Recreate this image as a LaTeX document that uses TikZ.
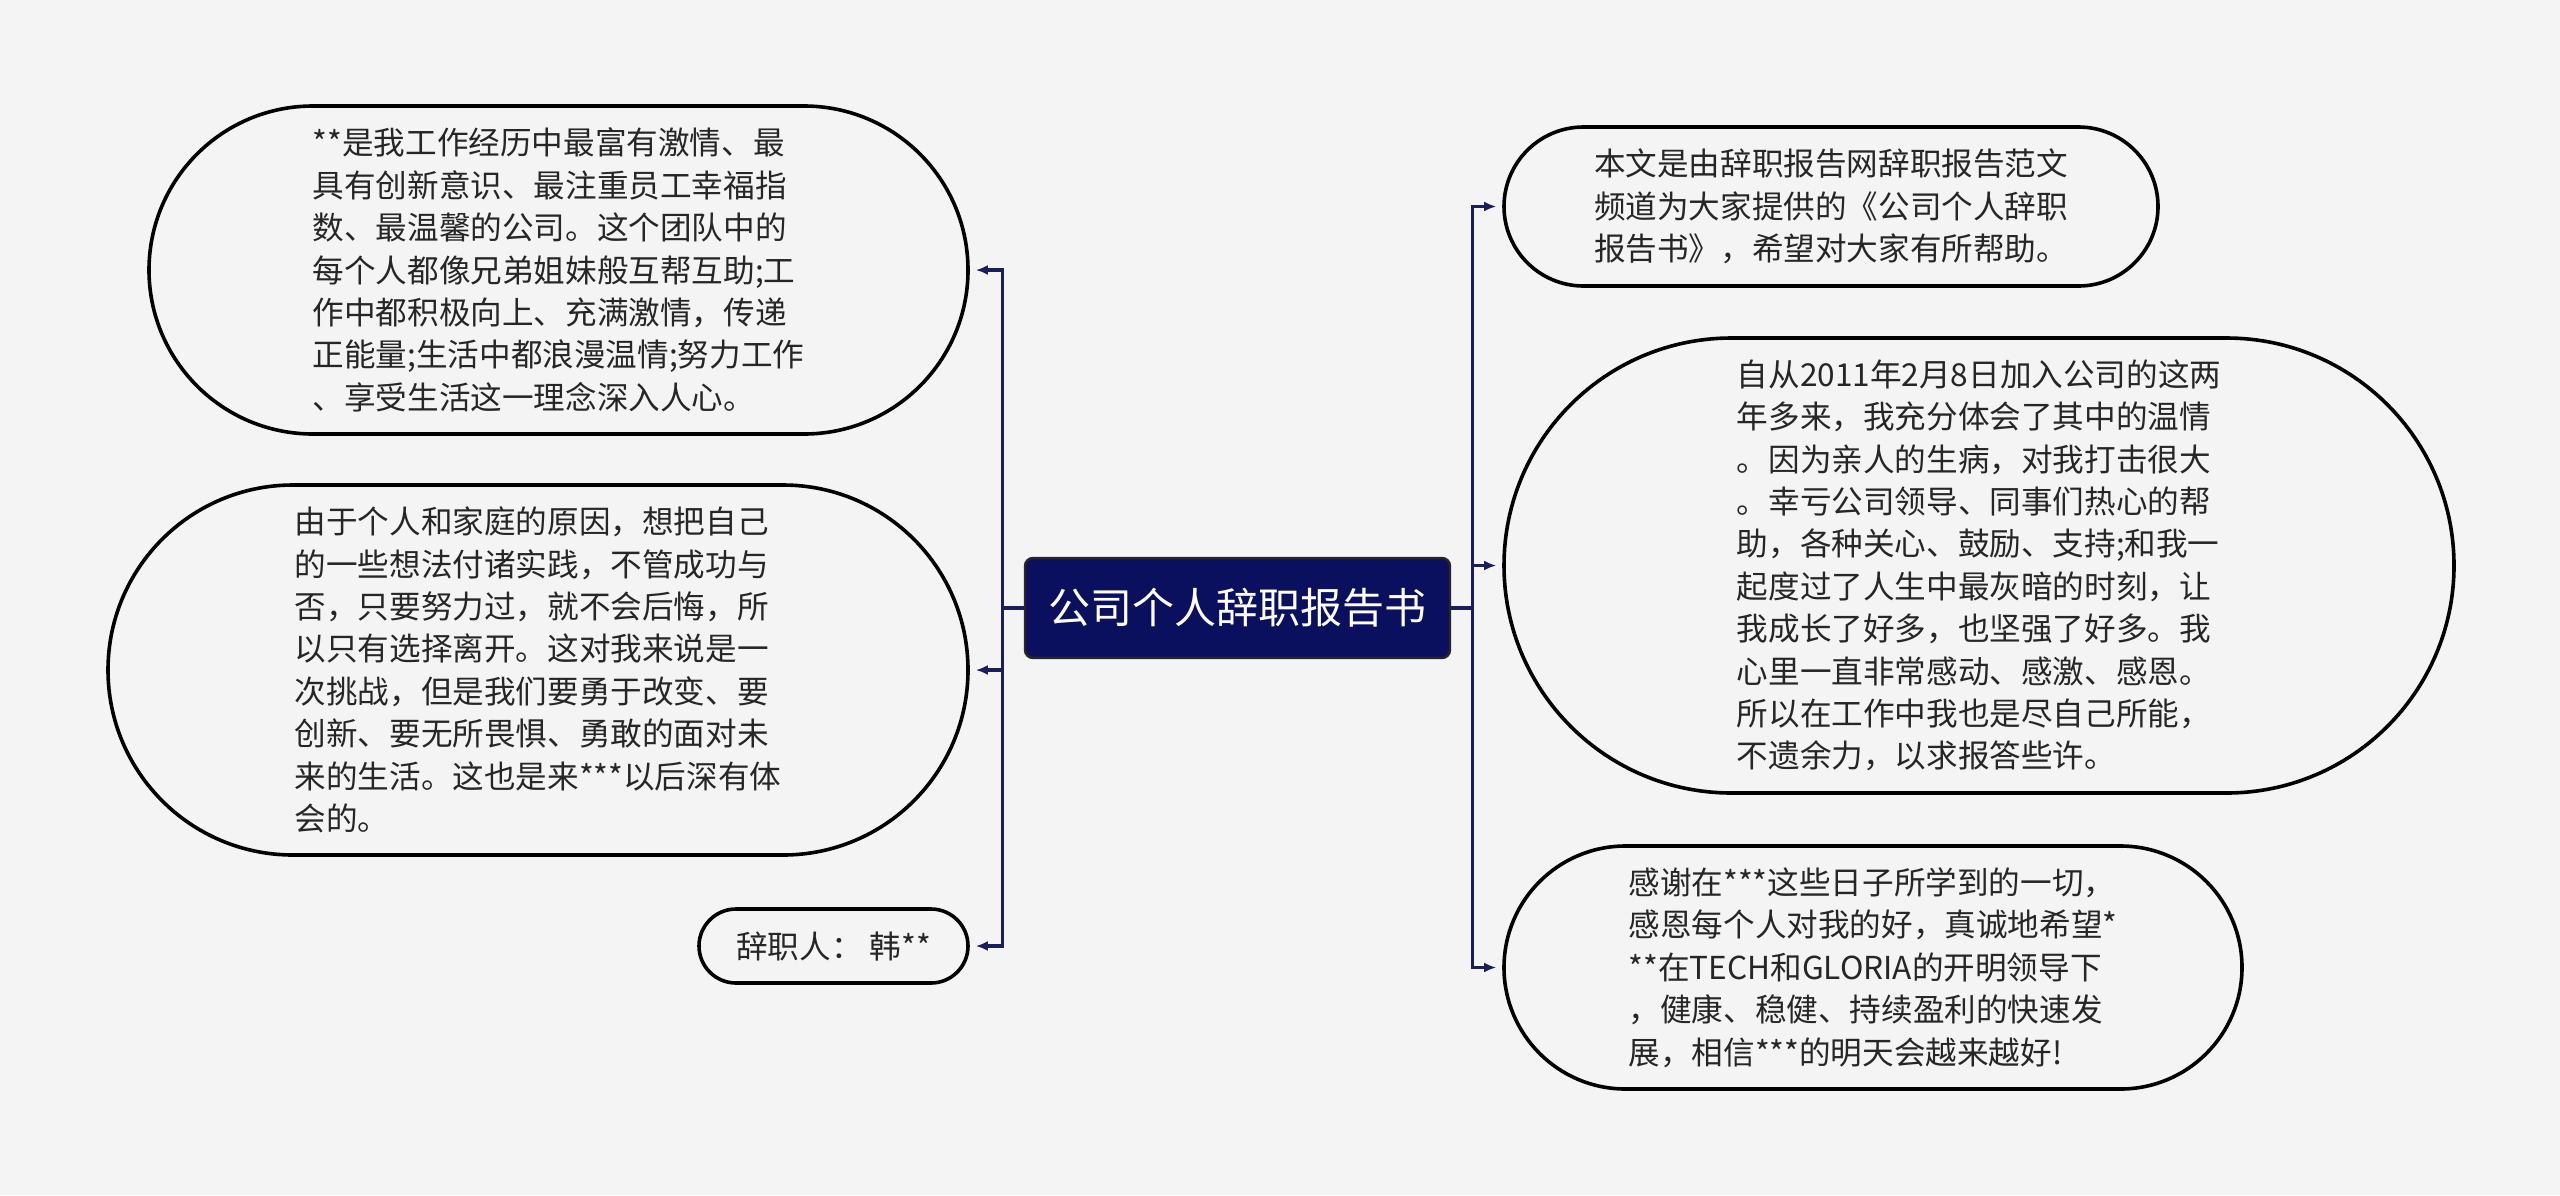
\documentclass[tikz,border=0pt]{standalone}
\usepackage{fontspec}
\newfontfamily\cjk{Noto Sans CJK SC}
\usetikzlibrary{positioning,arrows.meta,shapes.misc}
\definecolor{bgcol}{HTML}{F4F4F4}
\definecolor{navy}{HTML}{0B105E}
\definecolor{linkcol}{HTML}{1A1E5C}
\definecolor{txtcol}{HTML}{262626}
\tikzset{
bubble/.style={
  rounded rectangle,
  draw=black,
  line width=1.8pt,
  fill=bgcol,
  inner sep=0pt,
  align=left,
  text=txtcol,
  font=\cjk\fontsize{15.8}{21.2}\selectfont
},
title/.style={
  rectangle,
  rounded corners=4pt,
  draw=black!85,
  line width=1.2pt,
  fill=navy,
  text=white,
  inner sep=0pt,
  minimum width=212.5pt,
  minimum height=50pt,
  font=\cjk\fontsize{21}{25}\selectfont
},
link/.style={
  draw=linkcol,
  line width=1.6pt,
  -{Latex[length=6pt,width=5pt]},
  shorten >=3pt
}
}

\begin{document}
\begin{tikzpicture}[x=0.5pt,y=-0.5pt]
    \fill[bgcol] (0,0) rectangle (2560,1195);
    \useasboundingbox (0,0) rectangle (2560,1195);

    \node[title] (title) at (1237.5,608) {公司个人辞职报告书};

    % left side
    \node[bubble, minimum width=409.5pt, minimum height=164pt] (lb1) at (558.5,270) {
        **是我工作经历中最富有激情、最\\
        具有创新意识、最注重员工幸福指\\
        数、最温馨的公司。这个团队中的\\
        每个人都像兄弟姐妹般互帮互助;工\\
        作中都积极向上、充满激情，传递\\
        正能量;生活中都浪漫温情;努力工作\\
        、享受生活这一理念深入人心。};
    \node[bubble, minimum width=430pt, minimum height=185pt] (lb2) at (538,670) {
        由于个人和家庭的原因，想把自己\\
        的一些想法付诸实践，不管成功与\\
        否，只要努力过，就不会后悔，所\\
        以只有选择离开。这对我来说是一\\
        次挑战，但是我们要勇于改变、要\\
        创新、要无所畏惧、勇敢的面对未\\
        来的生活。这也是来***以后深有体\\
        会的。};
    \node[bubble, minimum width=134.5pt, minimum height=37pt] (lb3) at (833.5,946) {辞职人：\ 韩**};

    % right side
    \node[bubble, minimum width=327pt, minimum height=79.5pt] (rb1) at (1831,206.5) {
        本文是由辞职报告网辞职报告范文\\
        频道为大家提供的《公司个人辞职\\
        报告书》，希望对大家有所帮助。};
    \node[bubble, minimum width=475pt, minimum height=227.5pt] (rb2) at (1979,565.5) {
        自从2011年2月8日加入公司的这两\\
        年多来，我充分体会了其中的温情\\
        。因为亲人的生病，对我打击很大\\
        。幸亏公司领导、同事们热心的帮\\
        助，各种关心、鼓励、支持;和我一\\
        起度过了人生中最灰暗的时刻，让\\
        我成长了好多，也坚强了好多。我\\
        心里一直非常感动、感激、感恩。\\
        所以在工作中我也是尽自己所能，\\
        不遗余力，以求报答些许。};
    \node[bubble, minimum width=369pt, minimum height=121.5pt] (rb3) at (1873,967.5) {
        感谢在***这些日子所学到的一切，\\
        感恩每个人对我的好，真诚地希望*\\
        {}**在TECH和GLORIA的开明领导下\\
        ，健康、稳健、持续盈利的快速发\\
        展，相信***的明天会越来越好!};

    % connectors
    \foreach \b in {lb1,lb2,lb3}
        \draw[link] (title.west) -- ++(-21,0) |- (\b.east);
    \foreach \b in {rb1,rb2,rb3}
        \draw[link] (title.east) -- ++(21,0) |- (\b.west);
\end{tikzpicture}
\end{document}
